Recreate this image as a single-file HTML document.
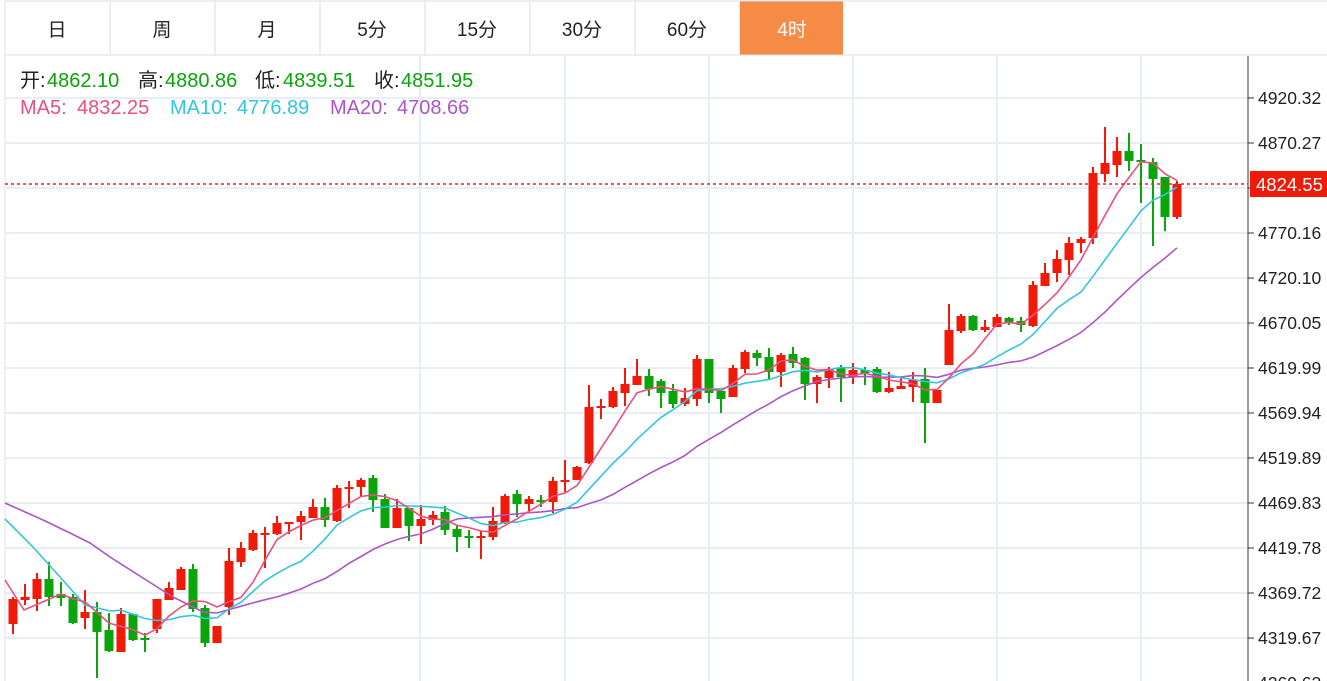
<!DOCTYPE html>
<html><head><meta charset="utf-8">
<style>
body{margin:0;width:1327px;height:681px;overflow:hidden;background:#fff;font-family:"Liberation Sans","Noto Sans CJK SC",sans-serif;}
svg{position:absolute;left:0;top:0}
</style></head><body>
<svg id="s" width="1327" height="681" xmlns="http://www.w3.org/2000/svg"></svg>
<script>
var s=document.getElementById('s'),h='';
var tabs=['日','周','月','5分','15分','30分','60分','4时'];
for(var i=0;i<8;i++){var x=5+i*105;
 if(i==7){h+='<rect x="740" y="1" width="103" height="54" fill="#f58b44"/>';}
 else h+='<line x1="'+(x+105)+'" y1="1" x2="'+(x+105)+'" y2="55" stroke="#ddd"/>';
 h+='<text x="'+(x+52)+'" y="36" font-size="19" text-anchor="middle" fill="'+(i==7?'#fff':'#222')+'">'+tabs[i]+'</text>';}
h+='<line x1="5" y1="1" x2="1327" y2="1" stroke="#e2e2e2"/><line x1="5" y1="1" x2="5" y2="681" stroke="#e2e2e2"/><line x1="5" y1="55" x2="1327" y2="55" stroke="#e2e2e2"/>';
var ticks=[['4920.32',98],['4870.27',143],['',188],['4770.16',233],['4720.10',278],['4670.05',323],['4619.99',368],['4569.94',413],['4519.89',458],['4469.83',503],['4419.78',548],['4369.72',593],['4319.67',638],['4269.62',683]];
ticks.forEach(function(t){h+='<line x1="5" y1="'+t[1]+'" x2="1248" y2="'+t[1]+'" stroke="#e7eef4" stroke-width="2"/>';
 h+='<line x1="1248" y1="'+t[1]+'" x2="1254" y2="'+t[1]+'" stroke="#333"/>';
 if(t[0])h+='<text x="1258" y="'+(t[1]+6)+'" font-size="17.5" fill="#222">'+t[0]+'</text>';});
[420,565,709,853,997,1141].forEach(function(x){h+='<line x1="'+x+'" y1="56" x2="'+x+'" y2="681" stroke="#e7eef4" stroke-width="2"/>';});
h+='<line x1="1248" y1="56" x2="1248" y2="681" stroke="#333"/>';
var C=[[599,624,597,634,1],[597,600,584,605,1],[579,599,573,611,1],[579,597,562,606,0],[594,598,582,606,0],[597,623,594,624,0],[612,618,590,629,1],[612,632,602,678,0],[630,651,613,652,0],[614,652,608,652,1],[614,640,614,641,0],[638,639,633,652,0],[599,629,599,633,1],[588,600,582,600,1],[569,590,567,590,1],[569,609,564,612,0],[608,643,605,647,0],[626,643,626,643,1],[561,607,548,615,1],[548,562,542,567,1],[533,550,530,551,1],[533,535,527,568,1],[523,534,516,535,1],[522,523,522,534,1],
[516,522,511,540,1],[507,518,499,518,1],[507,520,498,527,0],[488,521,485,522,1],[487,488,481,508,1],[480,487,478,496,1],[478,500,475,512,0],[499,528,494,528,0],[508,528,499,528,1],[508,526,508,541,0],[519,526,505,544,1],[515,520,511,525,1],[512,530,506,535,0],[529,537,525,552,0],[536,537,530,548,0],[536,537,531,559,1],[521,537,507,540,1],[496,523,494,524,1],[494,504,490,517,0],[499,504,496,513,1],[500,501,495,507,0],[481,502,477,513,1],[480,481,460,492,1],[467,480,466,480,1],
[407,463,385,464,1],[406,407,399,419,1],[391,407,387,408,1],[384,393,368,406,1],[376,385,359,385,1],[376,389,369,396,0],[381,393,379,408,0],[391,404,384,408,0],[398,404,388,406,1],[359,399,355,406,1],[359,393,359,403,0],[391,399,391,413,0],[368,397,365,397,1],[352,369,350,373,1],[353,358,350,366,0],[357,372,348,379,0],[355,372,353,387,1],[354,363,347,368,0],[358,384,357,400,0],[377,384,375,403,1],[369,378,367,388,1],[368,377,365,402,0],[370,377,363,384,1],[370,373,367,385,0],
[369,392,367,393,0],[388,392,372,393,1],[386,389,378,389,1],[380,387,372,402,1],[379,403,368,443,0],[390,403,390,403,1],[330,365,304,365,1],[316,331,314,333,1],[316,330,315,331,0],[327,330,320,332,1],[317,327,314,327,1],[318,322,317,325,0],[321,325,317,332,0],[285,326,281,327,1],[273,286,263,286,1],[259,273,250,282,1],[243,260,237,275,1],[239,243,237,253,1],[173,238,167,244,1],[163,174,127,182,1],[151,165,137,177,1],[151,161,133,171,0],[160,161,144,203,0],[162,179,158,246,0],[177,217,177,231,0],[184,217,181,219,1]];
var cl=[];
C.forEach(function(c,i){var x=13+12*i,col=c[4]?'#f01a08':'#0aa50a';cl.push(c[4]?c[0]:c[1]);
 h+='<line x1="'+x+'" y1="'+c[2]+'" x2="'+x+'" y2="'+c[3]+'" stroke="'+col+'" stroke-width="2"/>';
 h+='<rect x="'+(x-4.5)+'" y="'+c[0]+'" width="9" height="'+Math.max(2,c[1]-c[0])+'" fill="'+col+'"/>';});
function ma(n,pre,col){var p=pre.slice();for(var i=n-1;i<cl.length;i++){var t=0;for(var j=0;j<n;j++)t+=cl[i-j];p.push([13+12*i,t/n]);}
 h+='<polyline fill="none" stroke="'+col+'" stroke-width="1.6" points="'+p.map(function(q){return q[0]+','+q[1].toFixed(1)}).join(' ')+'"/>';}
ma(20,[[5,503],[43,520],[70,533],[90,543],[110,557],[143,578],[173,597],[203,612],[217,613]],'#ad55c8');
ma(10,[[5,519],[33,547],[60,577],[85,605],[110,611]],'#33c6dc');
ma(5,[[5,580],[24,610]],'#ec4f7e');
h+='<line x1="5" y1="184" x2="1248" y2="184" stroke="#f02020" stroke-width="1.5" stroke-dasharray="3,3"/>';
h+='<rect x="1250" y="171" width="77" height="26" fill="#f01a08"/><text x="1256" y="191" font-size="18.5" fill="#fff">4824.55</text>';
var G='#0aa50a',K='#222';
function t(x,y,c,s){h+='<text x="'+x+'" y="'+y+'" font-size="20" fill="'+c+'">'+s+'</text>';}
t(20,87,K,'开:');t(47,87,G,'4862.10');t(138,87,K,'高:');t(165,87,G,'4880.86');t(255,87,K,'低:');t(283,87,G,'4839.51');t(374,87,K,'收:');t(401,87,G,'4851.95');
t(20,114,'#ec4f7e','MA5:');t(77,114,'#ec4f7e','4832.25');t(170,114,'#33c6dc','MA10:');t(237,114,'#33c6dc','4776.89');t(330,114,'#ad55c8','MA20:');t(397,114,'#ad55c8','4708.66');
s.innerHTML=h;
</script>
</body></html>
